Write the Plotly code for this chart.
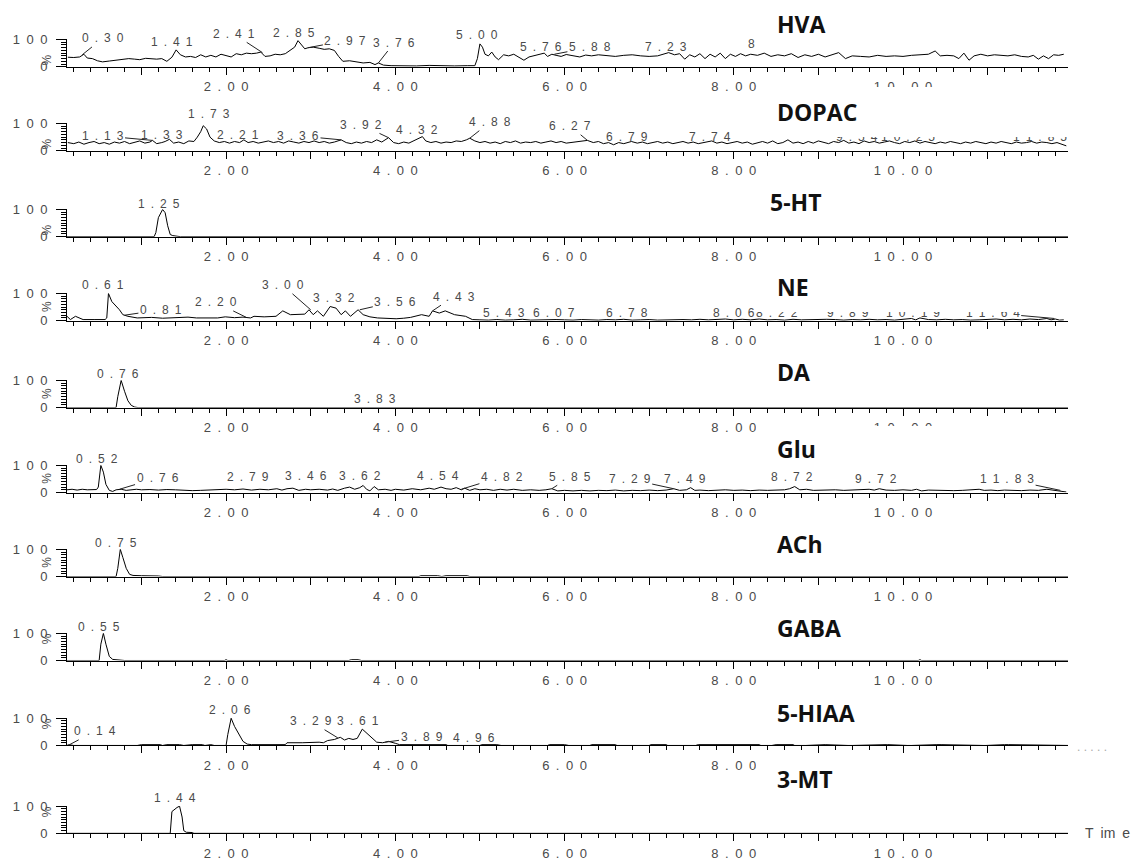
import plotly.graph_objects as go

# ---------------- data ----------------
panel_names = ["HVA", "DOPAC", "5-HT", "NE", "DA", "Glu", "ACh", "GABA", "5-HIAA", "3-MT"]

hva_t = [0.13,0.20,0.27,0.32,0.36,0.42,0.48,0.54,0.62,0.70,0.78,0.85,0.92,0.98,1.05,1.12,1.18,1.24,1.30,1.36,1.41,1.46,1.52,1.58,1.64,1.70,1.76,1.82,1.88,1.94,2.00,2.06,2.12,2.18,2.24,2.30,2.36,2.41,2.46,2.52,2.58,2.64,2.70,2.76,2.81,2.85,2.89,2.93,2.97,3.03,3.10,3.16,3.22,3.28,3.33,3.38,3.46,3.54,3.62,3.70,3.76,3.80,3.86,3.95,4.10,4.25,4.40,4.55,4.70,4.85,4.94,4.97,5.00,5.03,5.06,5.10,5.14,5.18,5.22,5.28,5.34,5.40,5.46,5.52,5.58,5.64,5.70,5.76,5.80,5.85,5.90,5.96,6.02,6.10,6.18,6.25,6.32,6.40,6.50,6.60,6.70,6.80,6.90,7.00,7.10,7.18,7.23,7.30,7.36,7.42,7.48,7.54,7.60,7.66,7.72,7.78,7.84,7.90,7.96,8.02,8.08,8.14,8.20,8.28,8.36,8.44,8.52,8.60,8.68,8.76,8.84,8.92,9.00,9.08,9.16,9.24,9.32,9.40,9.50,9.60,9.70,9.80,9.90,10.00,10.10,10.20,10.30,10.38,10.44,10.52,10.60,10.66,10.72,10.78,10.84,10.92,11.00,11.08,11.16,11.24,11.32,11.40,11.48,11.54,11.60,11.66,11.72,11.78,11.84,11.90]
hva_v = [35,34,36,46,32,30,22,18,21,24,26,30,28,26,31,29,28,30,20,35,62,44,36,38,34,44,36,42,36,46,42,36,48,44,50,48,50,54,38,40,46,44,48,60,72,96,80,66,70,72,68,64,66,60,38,20,22,18,14,16,8,14,6,4,3,3,5,3,3,4,4,30,84,72,46,40,54,36,26,44,40,46,36,24,36,40,44,50,38,46,42,38,45,40,36,43,40,44,40,38,42,44,40,38,40,46,52,44,48,28,44,36,48,30,46,36,50,30,46,38,48,40,46,42,50,38,44,40,48,34,44,38,46,36,44,52,30,40,38,36,42,38,40,38,42,44,46,58,40,42,40,30,50,24,40,46,40,44,42,40,44,38,36,42,28,40,30,44,42,46]

dopac_t = [0.13,0.20,0.26,0.32,0.38,0.44,0.50,0.56,0.62,0.68,0.74,0.80,0.86,0.92,0.98,1.04,1.10,1.13,1.18,1.24,1.28,1.33,1.38,1.44,1.50,1.56,1.62,1.66,1.70,1.73,1.77,1.81,1.86,1.92,1.98,2.04,2.10,2.16,2.21,2.26,2.32,2.38,2.44,2.50,2.56,2.62,2.68,2.74,2.80,2.86,2.92,2.98,3.04,3.10,3.16,3.22,3.28,3.36,3.42,3.48,3.54,3.60,3.66,3.72,3.78,3.84,3.92,3.98,4.04,4.10,4.16,4.22,4.28,4.32,4.36,4.42,4.48,4.54,4.60,4.66,4.72,4.78,4.84,4.88,4.94,5.00,5.06,5.12,5.18,5.24,5.30,5.36,5.42,5.48,5.54,5.60,5.66,5.72,5.78,5.84,5.90,5.96,6.02,6.10,6.18,6.27,6.34,6.40,6.46,6.52,6.58,6.64,6.70,6.79,6.86,6.92,6.98,7.04,7.10,7.16,7.22,7.28,7.34,7.40,7.46,7.52,7.58,7.64,7.74,7.80,7.86,7.92,7.98,8.04,8.10,8.16,8.22,8.28,8.34,8.40,8.46,8.52,8.58,8.64,8.70,8.76,8.82,8.88,8.94,9.00,9.06,9.12,9.18,9.24,9.30,9.36,9.42,9.48,9.54,9.60,9.66,9.72,9.78,9.84,9.90,9.96,10.02,10.08,10.14,10.20,10.26,10.32,10.38,10.44,10.50,10.56,10.62,10.68,10.74,10.80,10.86,10.92,10.98,11.04,11.10,11.16,11.22,11.28,11.34,11.40,11.46,11.52,11.58,11.64,11.70,11.76,11.82,11.88,11.93]
dopac_v = [30,26,32,24,30,34,26,30,24,32,28,34,26,30,36,28,32,38,26,30,34,42,28,32,26,36,34,50,70,92,80,50,36,30,34,28,34,30,40,30,34,28,32,36,30,34,28,36,32,28,34,30,36,30,34,28,32,40,30,26,32,28,34,30,40,32,48,30,26,32,28,36,44,52,36,30,34,28,32,30,36,34,40,46,36,30,34,28,32,26,34,30,36,28,32,30,34,28,32,36,30,34,28,32,36,38,30,34,26,30,22,30,26,34,28,32,26,30,34,28,32,26,30,34,28,32,26,30,36,28,32,26,30,34,28,32,24,30,34,28,36,26,30,40,28,32,26,34,28,36,30,26,34,30,38,28,32,26,36,30,34,28,32,36,30,26,34,30,36,28,34,30,26,32,28,34,30,26,32,28,34,30,26,32,28,34,30,26,32,28,30,34,28,32,30,26,30,22,18]

ht5_t = [0.12,1.15,1.17,1.20,1.25,1.28,1.31,1.34,1.37,1.43,1.46,11.95]
ht5_v = [0,0,15,70,100,88,40,8,4,3,0,0]

ne_t = [0.12,0.16,0.22,0.31,0.44,0.57,0.59,0.61,0.65,0.74,0.78,0.84,0.95,1.05,1.12,1.25,1.34,1.47,1.55,1.65,1.73,1.90,1.99,2.10,2.20,2.29,2.33,2.45,2.59,2.67,2.76,2.85,2.93,2.98,3.03,3.08,3.15,3.23,3.30,3.36,3.41,3.47,3.56,3.62,3.70,3.79,3.90,4.01,4.10,4.18,4.31,4.40,4.44,4.52,4.59,4.70,4.83,4.91,5.00,5.10,5.20,5.30,5.40,5.50,5.60,5.70,5.80,5.90,6.00,6.10,6.20,6.30,6.40,6.50,6.60,6.70,6.80,6.90,7.00,7.10,7.20,7.30,7.40,7.50,7.60,7.70,7.80,7.90,8.00,8.10,8.20,8.30,8.40,8.50,8.60,8.70,8.80,8.90,9.00,9.10,9.20,9.30,9.40,9.50,9.60,9.70,9.80,9.90,10.00,10.10,10.15,10.20,10.30,10.40,10.50,10.60,10.70,10.80,10.90,11.00,11.10,11.20,11.30,11.40,11.50,11.60,11.70,11.75,11.80,11.85,11.90]
ne_v = [16,4,16,4,4,4,10,100,70,40,22,16,10,12,12,9,10,10,13,10,10,10,14,11,13,10,16,14,16,36,22,22,24,40,22,36,16,52,46,22,36,16,40,22,14,10,9,7,9,12,22,16,36,28,36,22,16,4,3,2,4,2,3,5,2,3,2,4,3,2,4,3,2,4,3,5,2,3,4,2,3,2,4,3,5,3,4,6,3,5,3,6,3,4,2,5,3,4,3,5,4,2,4,3,5,3,4,2,5,8,3,10,4,3,5,3,4,2,3,4,6,3,5,3,6,4,8,3,6,2,3]

da_t = [0.12,0.70,0.72,0.76,0.80,0.84,0.88,0.92,0.96,3.78,3.83,3.88,11.95]
da_v = [0,0,40,100,60,25,8,2,0,0,2,0,0]

glu_t = [0.12,0.18,0.24,0.30,0.36,0.42,0.47,0.49,0.52,0.55,0.58,0.62,0.66,0.70,0.76,0.82,0.88,0.94,1.00,1.10,1.20,1.30,1.40,1.50,1.60,1.70,1.80,1.90,2.00,2.10,2.20,2.30,2.40,2.50,2.60,2.66,2.72,2.79,2.86,2.94,3.00,3.10,3.20,3.26,3.32,3.40,3.46,3.52,3.58,3.62,3.66,3.70,3.75,3.80,3.88,3.95,4.00,4.10,4.20,4.30,4.40,4.46,4.54,4.60,4.66,4.72,4.78,4.82,4.88,4.94,5.00,5.08,5.16,5.24,5.32,5.40,5.50,5.60,5.70,5.78,5.85,5.92,6.00,6.10,6.20,6.30,6.40,6.50,6.60,6.70,6.80,6.90,7.00,7.10,7.20,7.29,7.36,7.44,7.49,7.54,7.60,7.70,7.80,7.90,8.00,8.10,8.20,8.30,8.40,8.50,8.60,8.66,8.72,8.78,8.86,8.94,9.00,9.10,9.20,9.30,9.40,9.50,9.60,9.66,9.72,9.80,9.90,10.00,10.10,10.16,10.22,10.30,10.40,10.50,10.60,10.70,10.80,10.90,10.96,11.04,11.12,11.20,11.30,11.40,11.50,11.60,11.70,11.76,11.82,11.88,11.93]
glu_v = [10,12,9,12,10,12,11,20,100,75,30,8,4,10,12,8,10,12,10,11,9,11,10,8,7,8,9,10,12,10,13,9,12,10,14,9,14,16,8,12,10,12,9,13,8,16,20,12,18,26,12,6,22,10,12,8,12,9,14,10,16,12,20,14,12,18,10,16,8,14,10,12,8,12,9,12,8,10,8,10,14,6,8,6,8,6,8,7,9,6,8,7,9,7,9,14,8,10,18,8,9,7,9,10,8,9,7,9,8,9,10,14,22,10,12,8,9,8,10,8,9,10,12,9,14,9,8,10,8,12,6,9,8,9,7,8,9,12,8,9,7,9,8,7,9,8,12,10,8,4,2]

ach_t = [0.12,0.70,0.72,0.75,0.78,0.82,0.86,0.90,1.00,1.10,1.20,1.25,4.28,4.30,4.50,4.55,4.60,4.85,4.88,11.95]
ach_v = [0,0,30,100,70,30,8,4,3,3,2,0,0,3,3,0,3,3,0,0]

gaba_t = [0.12,0.50,0.52,0.55,0.58,0.62,0.66,0.75,0.80,1.98,2.00,2.02,3.45,3.48,3.56,3.60,10.18,10.20,10.22,11.95]
gaba_v = [0,0,60,100,60,15,4,3,0,0,3,0,0,3,3,0,0,3,0,0]

hiaa_t = [0.12,0.14,0.20,0.95,1.00,1.22,1.25,1.30,1.45,1.50,1.60,1.72,1.75,1.82,1.86,2.00,2.02,2.06,2.10,2.15,2.20,2.25,2.30,2.70,2.72,2.90,3.00,3.10,3.15,3.20,3.28,3.35,3.40,3.45,3.50,3.55,3.61,3.66,3.72,3.78,3.85,3.92,4.00,4.05,4.60,4.62,5.00,5.02,5.20,5.25,5.80,5.82,6.00,6.05,6.30,6.32,6.60,6.62,7.00,7.02,7.20,7.22,7.55,7.58,8.30,8.32,8.45,8.50,8.70,8.72,8.85,9.05,9.08,9.35,9.40,9.80,9.82,10.05,10.10,10.40,10.45,10.95,10.98,11.20,11.25,11.95]
hiaa_v = [0,3,0,0,3,3,0,3,3,0,3,3,0,3,0,0,40,100,70,40,15,5,3,3,10,10,12,12,10,18,22,30,20,26,22,26,60,45,30,12,10,15,8,3,3,0,0,3,3,0,0,3,3,0,0,3,3,0,0,3,3,0,0,3,3,0,0,3,3,0,0,3,3,0,0,3,3,0,0,3,3,0,0,3,3,0,0,0]

mt3_t = [0.12,1.34,1.36,1.39,1.42,1.45,1.48,1.50,1.53,1.60,1.62,11.95]
mt3_v = [0,0,80,88,95,100,60,10,4,3,0,0]

x_major_ticks = [1, 2, 3, 4, 5, 6, 7, 8, 9, 10, 11]
x_major_labels = ["", "2.00", "", "4.00", "", "6.00", "", "8.00", "", "10.00", ""]
y_tick_vals = [0, 100]
y_tick_labels = ["0", "100"]

# peak labels: (text, text_t, text_level, line_t, line_level)
labels = {
    "HVA": [("0.30", 0.54, 104, 0.30, 44), ("1.41", 1.36, 88, None, None), ("2.41", 2.09, 121, 2.43, 52),
            ("2.85", 2.80, 121, None, None), ("2.97", 3.41, 96, 2.97, 70), ("3.76", 3.99, 89, 3.80, 14),
            ("5.00", 4.96, 114, None, None), ("5.76", 5.72, 71, None, None), ("5.88", 6.30, 71, 5.88, 46),
            ("7.23", 7.20, 71, None, None), ("8.62", 8.42, 82, None, None)],
    "DOPAC": [("1.13", 0.54, 55, 1.13, 38), ("1.33", 1.24, 55, None, None), ("1.73", 1.80, 130, None, None),
              ("2.21", 2.14, 55, None, None), ("3.36", 2.85, 55, 3.36, 40), ("3.92", 3.60, 95, 3.92, 48),
              ("4.32", 4.26, 75, None, None), ("4.88", 5.12, 105, 4.88, 46), ("6.27", 6.07, 90, 6.27, 38),
              ("6.79", 6.74, 50, None, None), ("7.74", 7.72, 50, None, None), ("9.54", 9.46, 50, None, None),
              ("10.25", 10.06, 50, None, None), ("11.85", 11.62, 50, 11.88, 22)],
    "5-HT": [("1.25", 1.21, 115, None, None)],
    "NE": [("0.61", 0.55, 128, None, None), ("0.81", 1.23, 40, 0.80, 20), ("2.20", 1.88, 67, 2.24, 12),
           ("3.00", 2.67, 130, 3.00, 40), ("3.32", 3.28, 82, None, None), ("3.56", 4.00, 70, 3.58, 40),
           ("4.43", 4.69, 88, 4.44, 36), ("5.43", 5.28, 28, None, None), ("6.07", 5.88, 28, None, None),
           ("6.78", 6.74, 28, None, None), ("8.06", 8.00, 28, None, None), ("8.22", 8.51, 28, 8.30, 5),
           ("9.89", 9.35, 28, None, None), ("10.19", 10.12, 28, None, None), ("11.64", 11.06, 28, 11.79, 8)],
    "DA": [("0.76", 0.72, 120, None, None), ("3.83", 3.76, 30, None, None)],
    "Glu": [("0.52", 0.48, 118, None, None), ("0.76", 1.19, 54, 0.74, 12), ("2.79", 2.26, 54, None, None),
            ("3.46", 2.95, 58, None, None), ("3.62", 3.58, 58, None, None), ("4.54", 4.50, 58, None, None),
            ("4.82", 5.26, 58, 4.78, 12), ("5.85", 6.07, 58, 5.85, 14), ("7.29", 6.77, 49, 7.29, 14),
            ("7.49", 7.42, 49, None, None), ("8.72", 8.69, 54, None, None), ("9.72", 9.68, 49, None, None),
            ("11.83", 11.23, 49, 11.86, 8)],
    "ACh": [("0.75", 0.70, 120, None, None)],
    "GABA": [("0.55", 0.50, 120, None, None)],
    "5-HIAA": [("0.14", 0.45, 52, 0.15, 3), ("2.06", 2.05, 125, None, None), ("3.29", 3.00, 89, 3.32, 28),
               ("3.61", 3.56, 89, None, None), ("3.89", 4.31, 30, 3.88, 12), ("4.96", 4.93, 26, None, None)],
    "3-MT": [("1.44", 1.40, 125, None, None)],
}

series = {
    "HVA": (hva_t, hva_v), "DOPAC": (dopac_t, dopac_v), "5-HT": (ht5_t, ht5_v), "NE": (ne_t, ne_v),
    "DA": (da_t, da_v), "Glu": (glu_t, glu_v), "ACh": (ach_t, ach_v), "GABA": (gaba_t, gaba_v),
    "5-HIAA": (hiaa_t, hiaa_v), "3-MT": (mt3_t, mt3_v),
}

# ---------------- layout geometry (page pixels) ----------------
OFF = 8                      # default page margin around the plot div
FW, FH = 1141 - OFF, 861 - OFF
def px(x):
    return (x - OFF) / FW
def py(y):
    return 1 - (y - OFF) / FH

baselines = [61, 147, 235, 321, 410, 497, 583, 669, 756, 846]
panel_h = 28
x_left, x_right = 67, 1068
title_cy = [17, 107, 199, 287, 374, 452, 550, 636, 723, 790]
title_x = [775, 775, 768, 775, 775, 775, 775, 775, 775, 775]
box_cy = [20, 107, 199, 287, 374, 452, 550, 636, 723, 790]
box_h = [42, 50, 50, 50, 50, 46, 50, 50, 50, 50]
box_x0, box_w = 756, 316

EN = "\u2002"
def sp(s):
    return EN.join(list(s))

TXT = "#4a4a4a"
tick_font = dict(family="Liberation Sans, Arial", size=13, color=TXT)
lab_font = dict(family="Liberation Sans, Arial", size=12, color=TXT)

fig = go.Figure()
layout = dict(width=FW, height=FH, margin=dict(l=0, r=0, t=0, b=0, pad=0), paper_bgcolor="white",
              plot_bgcolor="white", showlegend=False)
label_anns, box_anns, title_anns, misc_anns = [], [], [], []

for i, name in enumerate(panel_names):
    k = i + 1
    xs = "" if k == 1 else str(k)
    t, v = series[name]
    fig.add_trace(go.Scatter(x=t, y=v, mode="lines", line=dict(color="black", width=1),
                             xaxis="x" + xs, yaxis="y" + xs, hoverinfo="skip"))
    b = baselines[i]
    y0 = py(b)
    y1 = py(b - panel_h)
    layout["xaxis" + xs] = dict(
        domain=[px(x_left), px(x_right)], range=[0.12, 11.95], anchor="y" + xs,
        showline=True, linecolor="black", linewidth=1, showgrid=False, zeroline=False,
        ticks="outside", ticklen=7, tickcolor="black", tickwidth=1,
        tickmode="array", tickvals=x_major_ticks, ticktext=[sp(s) for s in x_major_labels],
        tickfont=tick_font, ticklabelstandoff=1,
        minor=dict(dtick=0.2, tick0=0, ticks="outside", ticklen=4, tickcolor="black", showgrid=False),
    )
    layout["yaxis" + xs] = dict(
        domain=[y0, y1], range=[0, 100.5], anchor="x" + xs,
        showline=True, linecolor="black", linewidth=1, showgrid=False, zeroline=False,
        ticks="outside", ticklen=10, tickcolor="black", tickwidth=1,
        tickmode="array", tickvals=y_tick_vals, ticktext=[sp(s) for s in y_tick_labels],
        tickfont=tick_font, ticklabelstandoff=6,
        minor=dict(dtick=10, tick0=0, ticks="outside", ticklen=5, tickcolor="black", showgrid=False),
    )
    misc_anns.append(dict(x=px(38), y=(y0 + y1) / 2, xref="paper", yref="paper", text="%",
                          textangle=-90, showarrow=False, font=dict(family="Liberation Sans", size=12, color=TXT)))
    # white title box (hides what lies under it) and bold title
    box_anns.append(dict(x=px(box_x0), y=py(box_cy[i]), xref="paper", yref="paper", text="\u00a0",
                         showarrow=False, xanchor="left", yanchor="middle", width=box_w, height=box_h[i],
                         bgcolor="white", borderpad=0, borderwidth=0))
    title_anns.append(dict(x=px(title_x[i]), y=py(title_cy[i]), xref="paper", yref="paper",
                           text="<b>" + name + "</b>", showarrow=False, xanchor="left", yanchor="middle",
                           font=dict(family="Open Sans", size=23, color="#111")))
    for (txt, tx, ty, lx, ly) in labels.get(name, []):
        if lx is None:
            # anchor on the baseline and lift by pixels so labels above 100 % stay visible
            label_anns.append(dict(x=tx, y=0, yshift=ty * panel_h / 100.0, xref="x" + xs, yref="y" + xs,
                                   text=sp(txt), showarrow=False, font=lab_font, yanchor="middle"))
        else:
            label_anns.append(dict(x=lx, y=ly, ax=tx, ay=ty, xref="x" + xs, yref="y" + xs,
                                   axref="x" + xs, ayref="y" + xs, text=sp(txt), showarrow=True,
                                   arrowhead=0, arrowwidth=1, arrowcolor="#222", standoff=0, font=lab_font))

misc_anns.append(dict(x=px(1083), y=py(baselines[-1]), xref="paper", yref="paper", text="T" + EN + "im" + EN + "e",
                      showarrow=False, xanchor="left", yanchor="middle",
                      font=dict(family="Liberation Sans, Arial", size=14, color=TXT)))
misc_anns.append(dict(x=px(1075), y=py(baselines[-2] + 2), xref="paper", yref="paper",
                      text=". . . . .", showarrow=False, xanchor="left", yanchor="middle",
                      font=dict(family="Liberation Sans", size=12, color="#aaaaaa")))

layout["annotations"] = label_anns + box_anns + title_anns + misc_anns
fig.update_layout(**layout)
fig.write_html("out.html")
